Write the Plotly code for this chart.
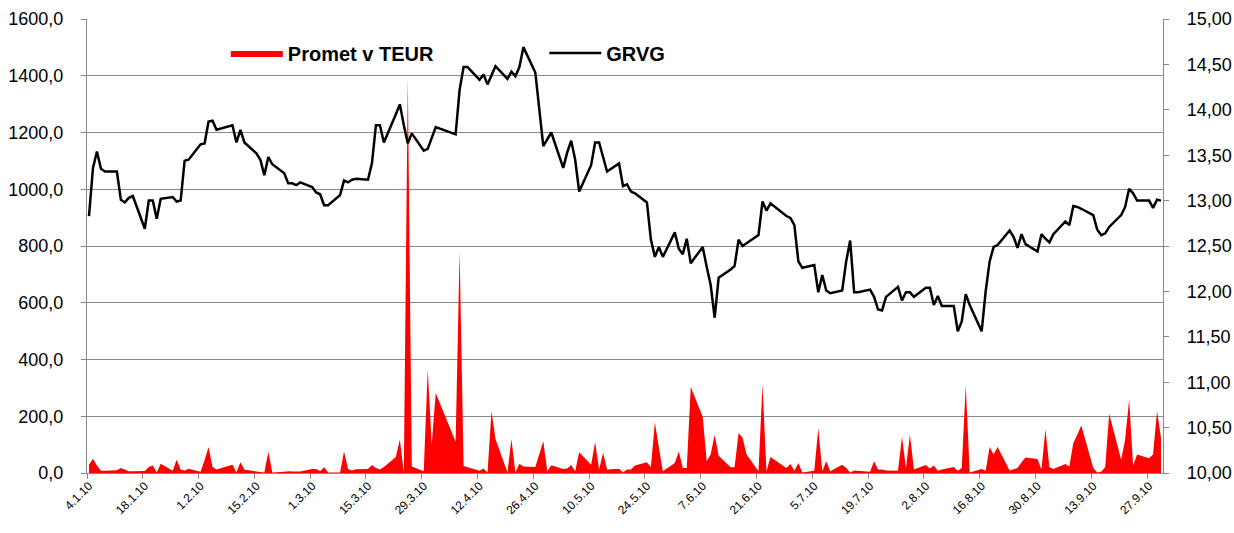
import pandas as pd
import plotly.graph_objects as go

# ---- data -------------------------------------------------------------
holidays = ["2010-02-08", "2010-04-02", "2010-04-05", "2010-04-27", "2010-06-25"]
dates = [d for d in pd.bdate_range("2010-01-04", "2010-09-30")
         if d.strftime("%Y-%m-%d") not in holidays]

grvg = [
    12.83, 13.36, 13.54, 13.35, 13.32,
    13.32, 13.01, 12.98, 13.03, 13.05,
    12.69, 13.00, 13.00, 12.80, 13.02,
    13.04, 12.99, 13.00, 13.44, 13.45,
    13.62, 13.63, 13.87, 13.88, 13.78,
    13.83, 13.64, 13.78, 13.64,
    13.52, 13.45, 13.28, 13.48, 13.40,
    13.30, 13.19, 13.19, 13.17, 13.20,
    13.15, 13.09, 13.07, 12.95, 12.95,
    13.06, 13.22, 13.20, 13.23, 13.24,
    13.23, 13.41, 13.83, 13.83, 13.64,
    13.95, 14.06, 13.83, 13.63, 13.74,
    13.55, 13.57, 13.69, 13.81,
    13.73, 14.22, 14.47, 14.47,
    14.33, 14.39, 14.28, 14.38, 14.48,
    14.34, 14.42, 14.37, 14.47, 14.69,
    14.41, 13.60, 13.67, 13.75,
    13.36, 13.53, 13.66, 13.45, 13.10,
    13.39, 13.64, 13.64, 13.48, 13.32,
    13.41, 13.16, 13.18, 13.10, 13.08,
    12.98, 12.57, 12.38, 12.49, 12.38,
    12.65, 12.47, 12.41, 12.58, 12.31,
    12.49, 12.27, 12.07, 11.71, 12.15,
    12.24, 12.28, 12.57, 12.50, 12.53,
    12.62, 12.99, 12.89, 12.97,
    12.83, 12.81, 12.73, 12.33, 12.26,
    12.29, 11.99, 12.18, 12.01, 11.98,
    12.01, 12.33, 12.56, 11.99, 11.99,
    12.02, 11.94, 11.80, 11.79, 11.94,
    12.05, 11.90, 11.99, 11.99, 11.94,
    12.04, 12.04, 11.85, 11.95, 11.84,
    11.84, 11.56, 11.67, 11.97, 11.85,
    11.56, 12.00, 12.33, 12.49, 12.51,
    12.67, 12.60, 12.48, 12.63, 12.52,
    12.44, 12.63, 12.58, 12.54, 12.63,
    12.77, 12.73, 12.94, 12.93, 12.91,
    12.84, 12.68, 12.62, 12.64, 12.71,
    12.84, 12.93, 13.13, 13.08, 13.00,
    13.00, 12.92, 13.01, 13.00,
]

promet = [
    29, 50, 26, 8, 8,
    10, 18, 12, 6, 6,
    7, 21, 26, 2, 33,
    8, 47, 12, 9, 15,
    4, 45, 92, 21, 12,
    29, 2, 38, 12,
    5, 4, 2, 75, 2,
    4, 6, 5, 5, 5,
    14, 14, 6, 20, 2,
    2, 76, 14, 9, 13,
    14, 28, 18, 12, 21,
    56, 118, 2, 1392, 23,
    6, 365, 100, 282,
    110, 781, 25, 20,
    8, 16, 2, 218, 120,
    2, 120, 2, 33, 23,
    21, 112, 6, 27,
    14, 16, 28, 6, 73,
    29, 109, 12, 71, 12,
    15, 2, 12, 12, 26,
    38, 20, 179, 90, 6,
    35, 76, 18, 18, 303,
    198, 41, 65, 135, 61,
    20, 20, 141, 124, 65,
    6, 312, 6, 56,
    18, 32, 8, 35, 2,
    8, 159, 6, 41, 6,
    29, 18, 2, 9, 8,
    4, 41, 12, 12, 9,
    8, 127, 18, 135, 12,
    28, 16, 26, 8, 12,
    21, 8, 18, 308, 2,
    14, 8, 92, 65, 92,
    9, 14, 18, 38, 55,
    49, 12, 153, 20, 14,
    32, 23, 106, 135, 167,
    18, 2, 4, 21, 209,
    47, 118, 259, 26, 65,
    52, 65, 218, 124,
]

tick_labels = ["4.1.10", "18.1.10", "1.2.10", "15.2.10", "1.3.10", "15.3.10",
               "29.3.10", "12.4.10", "26.4.10", "10.5.10", "24.5.10", "7.6.10",
               "21.6.10", "5.7.10", "19.7.10", "2.8.10", "16.8.10", "30.8.10",
               "13.9.10", "27.9.10"]
tick_dates = pd.date_range("2010-01-04", periods=len(tick_labels), freq="14D")
tick_edges = tick_dates - pd.Timedelta(hours=12)

GRID = "#898989"

fig = go.Figure()
fig.add_trace(go.Scatter(
    x=dates, y=promet, name="Promet v TEUR", mode="lines",
    line=dict(width=0, color="#FF0000"), fill="tozeroy", fillcolor="#FF0000",
    yaxis="y", legend="legend"))
fig.add_trace(go.Scatter(
    x=dates, y=grvg, name="GRVG", mode="lines",
    line=dict(width=2.5, color="black"), yaxis="y2", legend="legend2"))

legend_common = dict(orientation="h", yanchor="middle", xanchor="left",
                     bgcolor="rgba(0,0,0,0)", borderwidth=0, itemwidth=52,
                     font=dict(family="Arial", size=20, color="black", weight="bold"))

fig.update_layout(
    width=1234, height=533,
    margin=dict(l=87, r=71, t=19, b=60, autoexpand=False),
    paper_bgcolor="white", plot_bgcolor="white",
    separators=",.",
    showlegend=True,
    legend=dict(x=0.129, y=0.925, **legend_common),
    legend2=dict(x=0.425, y=0.925, **legend_common),
    xaxis=dict(
        type="date", automargin=False,
        range=["2010-01-03 12:00", "2010-09-30 12:00"],
        tickmode="array", tickvals=list(tick_dates), ticktext=tick_labels,
        ticks="", tickangle=-45,
        tickfont=dict(family="Arial", size=12, color="black"),
        showgrid=False, zeroline=False,
        showline=True, linecolor=GRID, linewidth=1.3,
        minor=dict(tickmode="array", tickvals=list(tick_edges), ticks="outside",
                   ticklen=5, tickcolor=GRID, tickwidth=1.3, showgrid=False),
    ),
    yaxis=dict(
        automargin=False,
        range=[0, 1600], tickmode="linear", tick0=0, dtick=200, tickformat=".1f",
        showgrid=True, gridcolor=GRID, gridwidth=1.3, zeroline=False,
        showline=True, linecolor=GRID, linewidth=1.3,
        ticks="outside", ticklen=5, tickcolor=GRID, tickwidth=1.3,
        ticklabelstandoff=14,
        tickfont=dict(family="Arial", size=18, color="black"),
    ),
    yaxis2=dict(
        automargin=False,
        range=[10, 15], tickmode="linear", tick0=10, dtick=0.5, tickformat=".2f",
        overlaying="y", side="right", showgrid=False, zeroline=False,
        showline=True, linecolor=GRID, linewidth=1.3,
        ticks="outside", ticklen=5, tickcolor=GRID, tickwidth=1.3,
        ticklabelstandoff=14,
        tickfont=dict(family="Arial", size=18, color="black"),
    ),
)

fig.write_html("out.html",
               config={"displayModeBar": False},
               post_script="document.body.style.margin='0';"
                           "document.body.style.overflow='hidden';")
